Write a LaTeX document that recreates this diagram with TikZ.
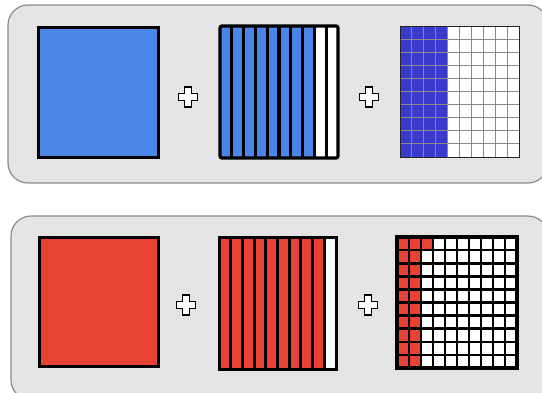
\documentclass[tikz,border=0pt]{standalone}
\definecolor{panelfill}{HTML}{E4E4E4}
\definecolor{paneldraw}{HTML}{8C8C8C}
\definecolor{sqblue}{HTML}{4A86E8}
\definecolor{gridblue}{HTML}{3A3ACC}
\definecolor{sqred}{HTML}{E84232}
\definecolor{gridline}{HTML}{8A8A8A}
\tikzset{
  panel/.style={fill=panelfill,draw=paneldraw,line width=1.2pt,rounded corners=20pt},
  bigsq/.style={draw=black,line width=3pt},
  plusmark/.style={fill=white,draw=black,line width=1.8pt,line join=miter},
}
\newcommand{\plussign}[3]{% name, x, y
  \coordinate (#1) at (#2,#3);
  \draw[plusmark] ($(#1)+(-3.5,-10)$) -- ++(7,0) -- ++(0,6.5) -- ++(6,0) -- ++(0,7) -- ++(-6,0)
     -- ++(0,6.5) -- ++(-7,0) -- ++(0,-6.5) -- ++(-6,0) -- ++(0,-7) -- ++(6,0) -- cycle;
}
\usetikzlibrary{calc}
\begin{document}
\begin{tikzpicture}[x=1pt,y=-1pt]
\useasboundingbox (0,0) rectangle (542,392);
% panels
\draw[panel] (8,5) rectangle (548,183);
\node[inner sep=0pt] (toppanel) at (278,94) {};
\draw[panel] (11,216) rectangle (548,400);
\node[inner sep=0pt] (botpanel) at (278,304) {};

% ===== top row =====
\draw[bigsq,fill=sqblue] (38,27) rectangle (158,157);
\node[inner sep=0pt] (topsquare) at (98,92) {};
\plussign{topplusA}{188}{97}
% striped box
\foreach \i in {0,...,9}{
  \pgfmathsetmacro{\xa}{220+\i*11.8}
  \pgfmathsetmacro{\xb}{220+(\i+1)*11.8}
  \ifnum\i<8
    \fill[sqblue] (\xa,26) rectangle (\xb,158);
  \else
    \fill[white] (\xa,26) rectangle (\xb,158);
  \fi
}
\foreach \i in {1,...,9}{
  \draw[line width=3.2pt] ({220+\i*11.8},26) -- ({220+\i*11.8},158);
}
\draw[line width=3.2pt,rounded corners=2pt] (220,26) rectangle (338,158);
\node[inner sep=0pt] (topstrips) at (279,92) {};
\plussign{topplusB}{369}{97}
% grid
\fill[white] (400,26) rectangle (519,157);
\fill[gridblue] (400,26) rectangle ({400+4*11.9},157);
\foreach \i in {1,...,9}{
  \draw[gridline,line width=0.9pt] ({400+\i*11.9},26) -- ({400+\i*11.9},157);
  \draw[gridline,line width=0.9pt] (400,{26+\i*13.1}) -- (519,{26+\i*13.1});
}
\draw[black!85,line width=1pt] (400,26) rectangle (519,157);
\node[inner sep=0pt] (topgrid) at (459.5,91.5) {};

% ===== bottom row =====
\draw[bigsq,fill=sqred] (39,237) rectangle (158,366);
\node[inner sep=0pt] (botsquare) at (98.5,301.5) {};
\plussign{botplusA}{186}{305}
\foreach \i in {0,...,9}{
  \pgfmathsetmacro{\xa}{219+\i*11.7}
  \pgfmathsetmacro{\xb}{219+(\i+1)*11.7}
  \ifnum\i<9
    \fill[sqred] (\xa,237) rectangle (\xb,369);
  \else
    \fill[white] (\xa,237) rectangle (\xb,369);
  \fi
}
\foreach \i in {1,...,9}{
  \draw[line width=3pt] ({219+\i*11.7},237) -- ({219+\i*11.7},369);
}
\draw[line width=3pt] (219,237) rectangle (336,369);
\node[inner sep=0pt] (botstrips) at (277.5,303) {};
\plussign{botplusB}{368}{305}
% bottom grid
\fill[white] (397,237) rectangle (517,368);
\fill[sqred] (397,237) rectangle ({397+3*12},{237+13.1});
\fill[sqred] (397,237) rectangle ({397+2*12},368);
\foreach \i in {1,...,9}{
  \draw[line width=2.6pt] ({397+\i*12},237) -- ({397+\i*12},368);
  \draw[line width=2.6pt] (397,{237+\i*13.1}) -- (517,{237+\i*13.1});
}
\draw[line width=3.5pt] (397,237) rectangle (517,368);
\node[inner sep=0pt] (botgrid) at (457,302.5) {};
\end{tikzpicture}
\end{document}
